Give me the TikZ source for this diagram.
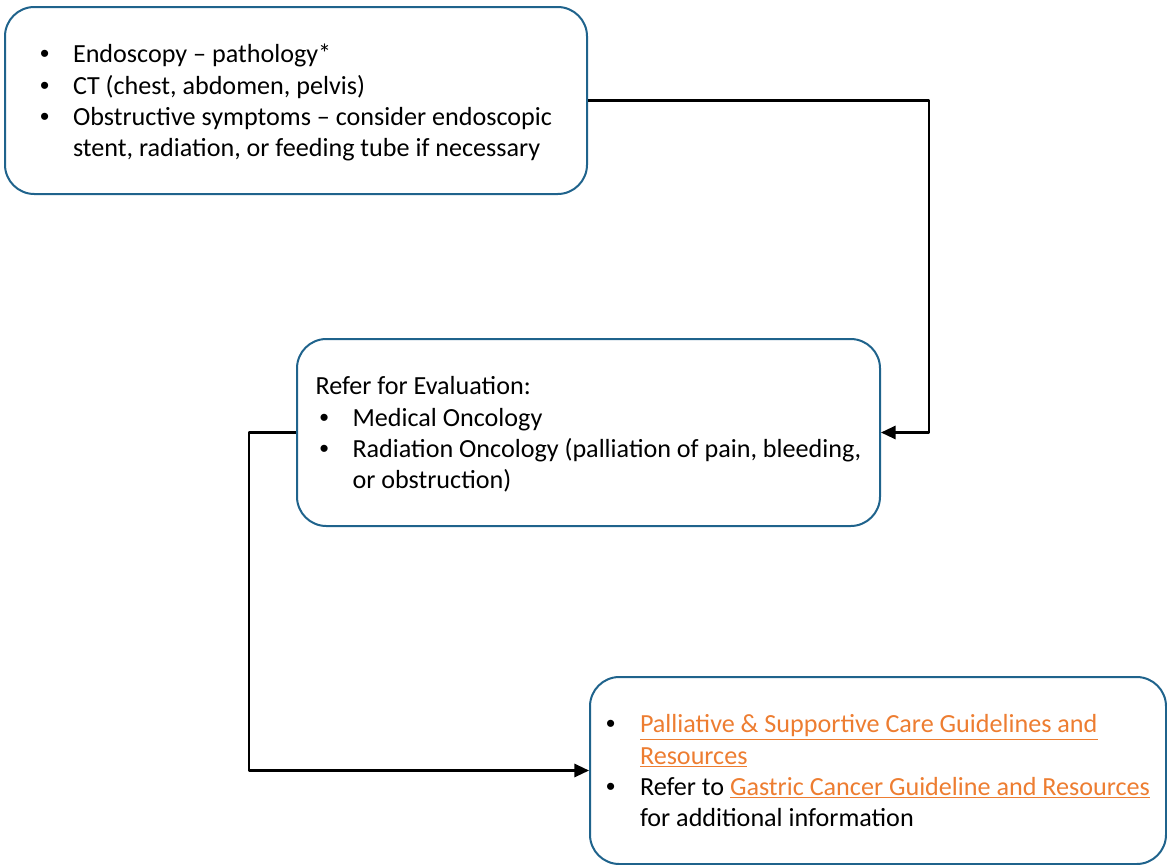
\documentclass[tikz,border=0pt]{standalone}
\usepackage{fontspec}
\setmainfont{Carlito}
\newfontfamily\bulfont{Liberation Sans}
\usetikzlibrary{arrows.meta}
\definecolor{boxblue}{RGB}{31,99,140}
\definecolor{linkorange}{RGB}{237,125,49}
\newcommand{\lnk}[1]{\textcolor{linkorange}{\underline{#1}}}
\newcommand{\bul}{{\bulfont\textbullet}}
\newcommand{\lowr}[1]{\raisebox{-2.25pt}[\height][\depth]{#1}}
\begin{document}
\begin{tikzpicture}[x=0.75pt,y=-0.75pt,>={Triangle[length=11pt,width=10pt]},
	font=\fontsize{19.6}{23.5}\selectfont, line join=round,
	box/.style={draw=boxblue, line width=1.5pt, rounded corners=22pt, inner sep=0pt,
		minimum height=140.25pt, align=left},
	link/.style={line width=1.6pt}]
	\def\W{1167} \def\H{864} % picture size in px
	\useasboundingbox (0,0) rectangle (\W,\H);
	\clip (0,0) rectangle (\W,\H);
	\node[box, minimum width=436.5pt] (endo) at (296,100.5) {\lowr{\begin{tabular}{@{}p{24.75pt}@{}l@{}}
		\bul & Endoscopy – pathology*\\
		\bul & CT (chest, abdomen, pelvis)\\
		\bul & Obstructive symptoms – consider endoscopic\\
		& stent, radiation, or feeding tube if necessary
	\end{tabular}}};
	\node[box, minimum width=437.25pt] (refer) at (588.5,432.5) {\lowr{\begin{tabular}{@{}p{27.75pt}@{}l@{}}
		\multicolumn{2}{@{}l@{}}{Refer for Evaluation:}\\
		\hspace{3pt}\bul & Medical Oncology\\
		\hspace{3pt}\bul & Radiation Oncology (palliation of pain, bleeding,\\
		& or obstruction)
	\end{tabular}}};
	\node[box, minimum width=432pt] (pall) at (878,770.5) {\lowr{\begin{tabular}{@{}p{25.5pt}@{}l@{}}
		\bul & \lnk{Palliative \& Supportive Care Guidelines and}\\
		& \lnk{Resources}\\
		\bul & Refer to \lnk{Gastric Cancer Guideline and Resources}\\
		& for additional information
	\end{tabular}}};
	\draw[link,->] (endo.east) -- ++(341,0) |- (refer.east);
	\draw[link,->] (refer.west) -- ++(-47,0) |- (pall.west);
\end{tikzpicture}
\end{document}
